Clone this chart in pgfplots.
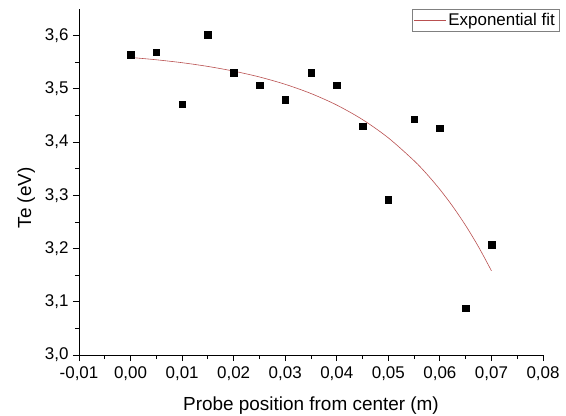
\documentclass[border=0pt]{standalone}
\usepackage{pgfplots}
\pgfplotsset{compat=1.18}
\usepackage{fontspec}
\setmainfont{Liberation Sans}
\definecolor{fitred}{RGB}{185,80,80}
\begin{document}
\begin{tikzpicture}
\begin{axis}[
  scale only axis, width=464bp, height=346bp,
  xmin=-0.01, xmax=0.08, ymin=3.0, ymax=3.65,
  axis x line*=bottom, axis y line*=left,
  xtick={-0.01,0,0.01,0.02,0.03,0.04,0.05,0.06,0.07,0.08},
  ytick={3.0,3.1,3.2,3.3,3.4,3.5,3.6},
  minor x tick num=1, minor y tick num=1,
  scaled x ticks=false, scaled y ticks=false,
  tick align=outside, major tick length=6bp, minor tick length=4bp,
  tick style={black, line width=0.8bp},
  axis line style={black, line width=0.8bp},
  /pgf/number format/assume math mode=true,
  /pgf/number format/use comma,
  x tick label style={/pgf/number format/.cd, fixed, fixed zerofill, precision=2, use comma, assume math mode=true, /tikz/.cd, font=\fontsize{17}{20}\selectfont, yshift=-2bp},
  y tick label style={/pgf/number format/.cd, fixed, fixed zerofill, precision=1, use comma, assume math mode=true, /tikz/.cd, font=\fontsize{17}{20}\selectfont, xshift=-1bp},
  xlabel={Probe position from center (m)},
  ylabel={Te (eV)},
  xlabel style={font=\fontsize{19}{22}\selectfont, at={(axis description cs:0.5,-0.159)}, anchor=base},
  ylabel style={font=\fontsize{19}{22}\selectfont, at={(axis description cs:-0.114,0.454)}, anchor=center},
  legend style={at={(axis description cs:1.0345,1)}, anchor=north east, draw=gray, font=\fontsize{17}{20}\selectfont, inner sep=2bp},
  legend image code/.code={\draw[#1] (0bp,0bp) -- (32bp,0bp);},
  clip=false,
]
\addplot[only marks, mark=square*, mark size=3.3bp, black, forget plot] coordinates {
(0.000,3.564) (0.005,3.569) (0.010,3.471) (0.015,3.602) (0.020,3.530)
(0.025,3.507) (0.030,3.480) (0.035,3.530) (0.040,3.507) (0.045,3.430)
(0.050,3.292) (0.055,3.443) (0.060,3.426) (0.065,3.088) (0.070,3.207)
};
\addplot[fitred, line width=0.6bp, smooth] coordinates {
(0.000,3.5590) (0.005,3.5546) (0.010,3.5491) (0.015,3.5421) (0.020,3.5333)
(0.025,3.5223) (0.030,3.5085) (0.035,3.4912) (0.040,3.4695) (0.045,3.4422)
(0.050,3.4079) (0.055,3.3649) (0.0575,3.3395) (0.060,3.3110) (0.0625,3.2790)
(0.065,3.2432) (0.0675,3.2031) (0.070,3.1582)
};
\addlegendentry{Exponential fit}
\coordinate (ll) at (rel axis cs:0,0);
\coordinate (ur) at (rel axis cs:1,1);
\end{axis}
\pgfresetboundingbox
\path[use as bounding box] ([shift={(-79bp,-61bp)}]ll) rectangle ([shift={(23bp,9bp)}]ur);
\end{tikzpicture}
\end{document}
